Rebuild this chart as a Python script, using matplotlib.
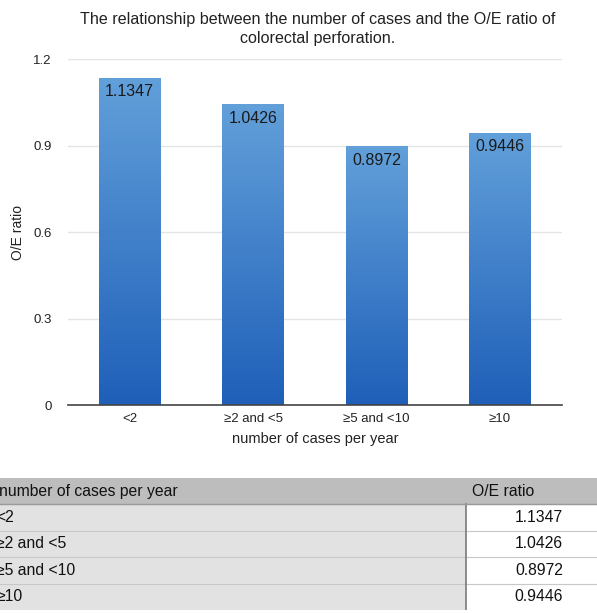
import numpy as np
import matplotlib.pyplot as plt
from matplotlib.colors import LinearSegmentedColormap
from matplotlib.patches import Rectangle

plt.rcParams['font.family'] = ['Liberation Sans', 'DejaVu Sans']

# data
categories = ['<2', '≥2 and <5', '≥5 and <10', '≥10']
table_labels = ['<2', '≥2 and <5', '≥5 and <10', '≥10']
oe_ratio = [1.1347, 1.0426, 0.8972, 0.9446]
yticks = [0, 0.3, 0.6, 0.9, 1.2]

fig = plt.figure(figsize=(5.97, 6.13), dpi=100)
fig.patch.set_facecolor('white')

ax = fig.add_axes([0.114, 0.3393, 0.8266, 0.5644])
x = np.arange(len(categories))
bars = ax.bar(x, oe_ratio, width=0.5, color='none', zorder=3)

# vertical blue gradient on each bar
cmap = LinearSegmentedColormap.from_list('bluegrad', ['#1f5fb8', '#62a0da'])
grad = np.linspace(0, 1, 256).reshape(-1, 1)
for b in bars:
    x0, w, h = b.get_x(), b.get_width(), b.get_height()
    im = ax.imshow(grad, extent=[x0, x0 + w, 0, h], origin='lower',
                   aspect='auto', cmap=cmap, zorder=3)
    im.set_clip_path(b)

for xi, v in zip(x, oe_ratio):
    ax.text(xi, v - 0.022, f'{v:.4f}', ha='center', va='top',
            fontsize=11.5, color='#1a1a1a', zorder=4)

ax.set_xlim(-0.5, 3.5)
ax.set_ylim(0, 1.2)
ax.set_yticks(yticks)
ax.set_yticklabels(['0', '0.3', '0.6', '0.9', '1.2'])
ax.set_xticks(x)
ax.set_xticklabels(categories)
ax.tick_params(axis='both', length=0, labelsize=9.5, colors='#222222')
ax.tick_params(axis='y', pad=12)
ax.tick_params(axis='x', pad=6)
ax.grid(axis='y', color='#e4e4e4', linewidth=1, zorder=0)
for s in ['top', 'right', 'left']:
    ax.spines[s].set_visible(False)
ax.spines['bottom'].set_color('#444444')
ax.spines['bottom'].set_linewidth(1.2)
ax.spines['bottom'].set_zorder(5)
ax.set_ylabel('O/E ratio', fontsize=10, color='#222222', labelpad=6)
ax.set_xlabel('number of cases per year', fontsize=10.5, color='#222222', labelpad=5)

fig.text(0.532, 0.981, 'The relationship between the number of cases and the O/E ratio of\ncolorectal perforation.',
         ha='center', va='top', fontsize=11.6, color='#222222', linespacing=1.4)

# summary table below the chart
tax = fig.add_axes([0, 3 / 613, 1, 132 / 613])
tax.set_xlim(0, 1)
tax.set_ylim(0, 5)
tax.axis('off')
split = 466 / 597
tax.add_patch(Rectangle((0, 4), 1, 1, facecolor='#bdbdbd', edgecolor='none'))
tax.add_patch(Rectangle((0, 0), split, 4, facecolor='#e2e2e2', edgecolor='none'))
tax.add_patch(Rectangle((split, 0), 1 - split, 4, facecolor='white', edgecolor='none'))
for r in range(1, 5):
    tax.plot([0, 1], [r, r], color='#c8c8c8', lw=0.8)
tax.plot([split, split], [0, 4], color='#7a7a7a', lw=1.2)
tax.plot([0, 1], [4, 4], color='#9a9a9a', lw=1)

tax.text(-0.001, 4.5, 'number of cases per year', va='center', ha='left',
         fontsize=11.3, color='#111111')
tax.text(0.79, 4.5, 'O/E ratio', va='center', ha='left', fontsize=11.3, color='#111111')
for i, (lab, v) in enumerate(zip(table_labels, oe_ratio)):
    yy = 3.5 - i
    tax.text(-0.006, yy, lab, va='center', ha='left', fontsize=11.3, color='#111111')
    tax.text(0.903, yy, f'{v:.4f}', va='center', ha='center', fontsize=11.3, color='#111111')

fig.savefig('out.png', dpi=100)
